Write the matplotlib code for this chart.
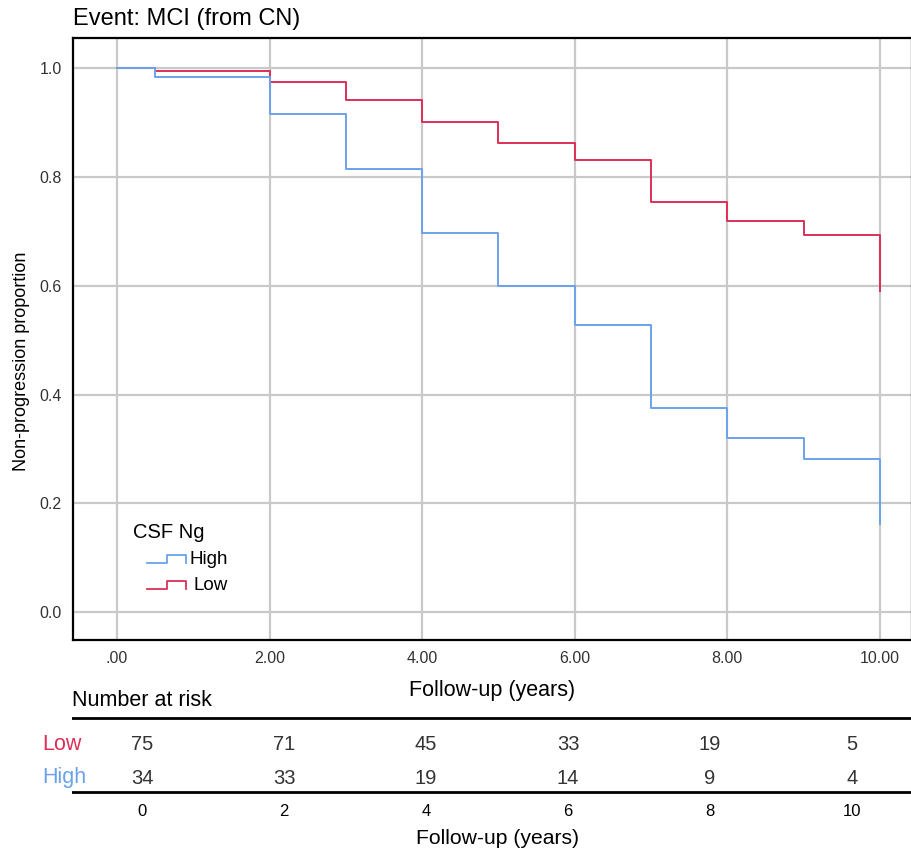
import matplotlib.pyplot as plt

# survival steps (time of drop, value after drop)
times = [0, 0.5, 2, 3, 4, 5, 6, 7, 8, 9, 10]
low_surv = [1.0, 0.995, 0.974, 0.941, 0.900, 0.863, 0.830, 0.754, 0.718, 0.693, 0.590]
high_surv = [1.0, 0.983, 0.915, 0.814, 0.696, 0.600, 0.528, 0.376, 0.320, 0.282, 0.163]
low_end = 0.693
high_end = 0.282

xticks = [0, 2, 4, 6, 8, 10]
xtick_labels = [".00", "2.00", "4.00", "6.00", "8.00", "10.00"]
yticks = [0.0, 0.2, 0.4, 0.6, 0.8, 1.0]

risk_times = [0, 2, 4, 6, 8, 10]
risk_low = [75, 71, 45, 33, 19, 5]
risk_high = [34, 33, 19, 14, 9, 4]

BLUE = "#6aa2ea"
RED = "#dc2f57"
GRID = "#c9c9c9"

plt.rcParams["font.family"] = ["Liberation Sans", "DejaVu Sans"]

fig = plt.figure(figsize=(9.12, 8.52), dpi=100)
ax = fig.add_axes([73 / 912, 1 - 640 / 852, 839 / 912, 602 / 852])

# step curves, last vertical drop at 10
ax.step(times + [10], low_surv[:-1] + [low_end, low_surv[-1]], where="post", color=RED, lw=1.4)
ax.step(times + [10], high_surv[:-1] + [high_end, high_surv[-1]], where="post", color=BLUE, lw=1.4)

ax.set_xlim(-0.577, 10.42)
ax.set_ylim(-0.051, 1.055)
ax.set_xticks(xticks)
ax.set_xticklabels(xtick_labels)
ax.set_yticks(yticks)
ax.set_yticklabels(["%.1f" % v for v in yticks])
ax.grid(True, color=GRID, lw=1.6)
ax.set_axisbelow(True)
ax.tick_params(length=0, labelsize=11.5, labelcolor="#333333", pad=8)
for s in ax.spines.values():
    s.set_color("black")
    s.set_linewidth(1.6)

ax.set_xlabel("Follow-up (years)", fontsize=15.5, labelpad=10)
ax.set_ylabel("Non-progression proportion", fontsize=13)
ax.yaxis.set_label_coords((30 - 73) / 839, (640 - 361) / 602)
fig.text(73 / 912, 1 - 19 / 852, "Event: MCI (from CN)", fontsize=17, va="center", ha="left")

# legend with step-shaped keys
tr = ax.transAxes
def fx(px):
    return (px - 73) / 839
def fy(py):
    return (640 - py) / 602
ax.text(fx(133), fy(533), "CSF Ng", transform=tr, fontsize=14.5, va="center")
for ypx, tx, col, lab in [(559, 190, BLUE, "High"), (585, 194, RED, "Low")]:
    xs = [fx(147), fx(167), fx(167), fx(186), fx(186)]
    ys = [fy(ypx + 4), fy(ypx + 4), fy(ypx - 4), fy(ypx - 4), fy(ypx + 4)]
    ax.plot(xs, ys, transform=tr, color=col, lw=1.3, clip_on=False)
    ax.text(fx(tx), fy(ypx), lab, transform=tr, fontsize=13.5, va="center")

# number at risk table
tab = fig.add_axes([72 / 912, 1 - 850 / 852, 840 / 912, 160 / 852])
tab.set_xlim((72 - 142) / 71, (912 - 142) / 71)
tab.set_ylim(850, 690)
tab.axis("off")
tab.text((72 - 142) / 71, 701, "Number at risk", fontsize=15.5, va="center", ha="left")
tab.axhline(718, color="black", lw=2)
tab.axhline(792, color="black", lw=2)
fig.text(42 / 912, 1 - 744 / 852, "Low", color=RED, fontsize=15.5, va="center")
fig.text(42 / 912, 1 - 778 / 852, "High", color=BLUE, fontsize=15.5, va="center")
for t, lo, hi in zip(risk_times, risk_low, risk_high):
    tab.text(t, 744, str(lo), ha="center", va="center", fontsize=14.5, color="#333333")
    tab.text(t, 778, str(hi), ha="center", va="center", fontsize=14.5, color="#333333")
    tab.text(t, 811, str(t), ha="center", va="center", fontsize=12)
tab.text(5, 839, "Follow-up (years)", ha="center", va="center", fontsize=15.2)

fig.savefig("out.png", dpi=100)
